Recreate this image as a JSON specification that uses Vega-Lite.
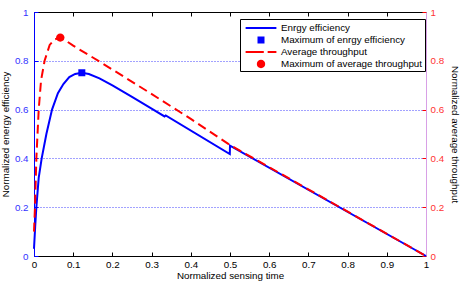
{
  "$schema": "https://vega.github.io/schema/vega-lite/v6.json",
  "width": 392,
  "height": 244,
  "autosize": "none",
  "padding": {"left": 34, "top": 12, "right": 37, "bottom": 29},
  "background": "white",
  "config": {
    "font": "Liberation Sans",
    "view": {"stroke": null},
    "axis": {"labelFont": "Liberation Sans", "titleFont": "Liberation Sans", "labelFontSize": 9.8, "titleFontSize": 9.8, "titleFontWeight": "normal", "grid": false, "titleColor": "black"}
  },
  "datasets": {
    "lines": [
      {"series": "Enrgy efficiency", "x": 0, "y": 0.03},
      {"series": "Enrgy efficiency", "x": 0.003, "y": 0.12},
      {"series": "Enrgy efficiency", "x": 0.006, "y": 0.2},
      {"series": "Enrgy efficiency", "x": 0.012, "y": 0.32},
      {"series": "Enrgy efficiency", "x": 0.0196, "y": 0.4},
      {"series": "Enrgy efficiency", "x": 0.0316, "y": 0.5},
      {"series": "Enrgy efficiency", "x": 0.046, "y": 0.6},
      {"series": "Enrgy efficiency", "x": 0.061, "y": 0.667},
      {"series": "Enrgy efficiency", "x": 0.075, "y": 0.705},
      {"series": "Enrgy efficiency", "x": 0.09, "y": 0.733},
      {"series": "Enrgy efficiency", "x": 0.105, "y": 0.746},
      {"series": "Enrgy efficiency", "x": 0.122, "y": 0.751},
      {"series": "Enrgy efficiency", "x": 0.14, "y": 0.746},
      {"series": "Enrgy efficiency", "x": 0.167, "y": 0.728},
      {"series": "Enrgy efficiency", "x": 0.2, "y": 0.699},
      {"series": "Enrgy efficiency", "x": 0.25, "y": 0.652},
      {"series": "Enrgy efficiency", "x": 0.3, "y": 0.604},
      {"series": "Enrgy efficiency", "x": 0.333, "y": 0.572},
      {"series": "Enrgy efficiency", "x": 0.336, "y": 0.576},
      {"series": "Enrgy efficiency", "x": 0.4995, "y": 0.418},
      {"series": "Enrgy efficiency", "x": 0.5, "y": 0.452},
      {"series": "Enrgy efficiency", "x": 1, "y": 0},
      {"series": "Average throughput", "x": 0, "y": 0.1},
      {"series": "Average throughput", "x": 0.0025, "y": 0.2},
      {"series": "Average throughput", "x": 0.006, "y": 0.4},
      {"series": "Average throughput", "x": 0.012, "y": 0.6},
      {"series": "Average throughput", "x": 0.018, "y": 0.72},
      {"series": "Average throughput", "x": 0.027, "y": 0.8},
      {"series": "Average throughput", "x": 0.04, "y": 0.865},
      {"series": "Average throughput", "x": 0.053, "y": 0.888},
      {"series": "Average throughput", "x": 0.067, "y": 0.895},
      {"series": "Average throughput", "x": 0.08, "y": 0.884},
      {"series": "Average throughput", "x": 0.1, "y": 0.862},
      {"series": "Average throughput", "x": 0.167, "y": 0.797},
      {"series": "Average throughput", "x": 0.295, "y": 0.669},
      {"series": "Average throughput", "x": 0.4, "y": 0.562},
      {"series": "Average throughput", "x": 0.5, "y": 0.455},
      {"series": "Average throughput", "x": 1, "y": 0}
    ],
    "points": [
      {"series": "Maximum of enrgy efficiency", "x": 0.122, "y": 0.751},
      {"series": "Maximum of average throughput", "x": 0.067, "y": 0.895}
    ]
  },
  "layer": [
    {
      "data": {"name": "lines"},
      "transform": [{"filter": "datum.series === 'Enrgy efficiency'"}],
      "mark": {"type": "line", "strokeWidth": 2},
      "encoding": {
        "x": {"field": "x", "type": "quantitative", "scale": {"domain": [0, 1], "nice": false, "zero": false},
          "axis": {"orient": "bottom", "values": [0, 0.1, 0.2, 0.3, 0.4, 0.5, 0.6, 0.7, 0.8, 0.9, 1], "format": "~g", "domainColor": "black", "tickColor": "black", "labelColor": "black", "tickSize": -4, "labelPadding": 7, "title": "Normalized sensing time", "titlePadding": 2, "labelFlush": false}},
        "y": {"field": "y", "type": "quantitative", "scale": {"domain": [0, 1], "nice": false, "zero": false},
          "axis": {"orient": "left", "values": [0, 0.2, 0.4, 0.6, 0.8, 1], "format": "~g", "domainColor": "#0000ff", "tickColor": "#0000ff", "labelColor": "#3333ff", "tickSize": -4, "labelPadding": 10, "grid": true, "gridColor": "#4444ff", "gridDash": [1, 2], "gridWidth": 1, "gridOpacity": {"condition": {"test": "datum.value === 0 || datum.value === 1", "value": 0}, "value": 1}, "title": "Normalized energy efficiency", "titlePadding": 4, "labelFlush": false}},
        "color": {"field": "series", "type": "nominal",
          "scale": {"domain": ["Enrgy efficiency", "Maximum of enrgy efficiency", "Average throughput", "Maximum of average throughput"], "range": ["#0000ff", "#0000ff", "#ff0000", "#ff0000"]},
          "legend": {"orient": "none", "legendX": 206, "legendY": 7, "title": null, "padding": 2, "rowPadding": 0, "strokeColor": "black", "fillColor": "white", "symbolSize": 196, "symbolStrokeWidth": 0, "symbolOffset": 12, "labelOffset": 13, "labelFontSize": 9.8, "labelFont": "Liberation Sans", "labelLimit": 300, "labelColor": "black",
            "encode": {"symbols": {"update": {"fill": {"scale": "color", "field": "value"}, "stroke": {"value": "transparent"}, "opacity": {"value": 1}}}}}}
      }
    },
    {
      "data": {"name": "lines"},
      "transform": [{"filter": "datum.series === 'Average throughput'"}],
      "mark": {"type": "line", "strokeWidth": 2, "strokeDash": [9, 5]},
      "encoding": {
        "x": {"field": "x", "type": "quantitative", "scale": {"domain": [0, 1], "nice": false, "zero": false},
          "axis": {"orient": "top", "values": [0, 0.1, 0.2, 0.3, 0.4, 0.5, 0.6, 0.7, 0.8, 0.9, 1], "labels": false, "domainColor": "black", "tickColor": "black", "tickSize": -4, "title": null}},
        "y": {"field": "y", "type": "quantitative", "scale": {"domain": [0, 1], "nice": false, "zero": false},
          "axis": {"orient": "right", "values": [0, 0.2, 0.4, 0.6, 0.8, 1], "format": "~g", "domainColor": "#d8a0e6", "tickColor": "#ff0000", "labelColor": "#ff3333", "tickSize": -4, "labelPadding": 8, "title": "Normalized average throughput", "titlePadding": 6, "labelFlush": false}},
        "color": {"field": "series", "type": "nominal"}
      }
    },
    {
      "data": {"name": "points"},
      "mark": {"type": "point", "filled": true, "size": 196, "strokeWidth": 0, "opacity": 1},
      "encoding": {
        "x": {"field": "x", "type": "quantitative", "axis": null},
        "y": {"field": "y", "type": "quantitative", "axis": null},
        "color": {"field": "series", "type": "nominal"},
        "shape": {"field": "series", "type": "nominal",
          "scale": {"domain": ["Enrgy efficiency", "Maximum of enrgy efficiency", "Average throughput", "Maximum of average throughput"],
            "range": ["M-2.2,-0.14H2.2V0.14H-2.2Z", "M-0.5,-0.5H0.5V0.5H-0.5Z", "M-2.2,-0.14H0.4V0.14H-2.2ZM0.95,-0.14H2.2V0.14H0.95Z", "M-0.6,0A0.6,0.6 0 1,0 0.6,0A0.6,0.6 0 1,0 -0.6,0Z"]}}
      }
    }
  ],
  "resolve": {"axis": {"x": "independent", "y": "independent"}}
}
